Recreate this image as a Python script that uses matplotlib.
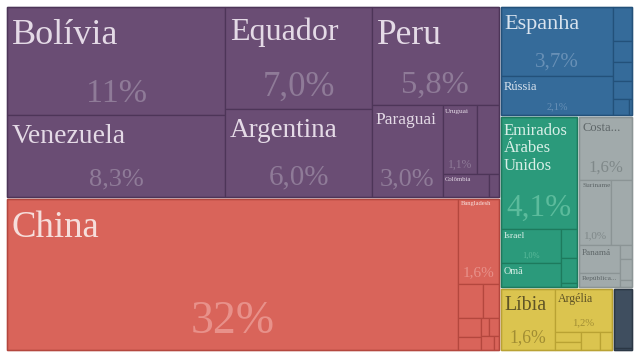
import matplotlib.pyplot as plt
from matplotlib.patches import Rectangle

# export shares (%) by destination, grouped by region
names = ["Bolívia", "Venezuela", "Equador", "Argentina", "Peru", "Paraguai", "Uruguai", "", "Colômbia", "",
         "China", "Bangladesh", "", "", "", "", "", "", "", "",
         "Espanha", "Rússia", "", "", "", "", "", "",
         "Emirados\nÁrabes\nUnidos", "Israel", "Omã", "", "", "",
         "Costa...", "Suriname", "", "Panamá", "República...", "", "", "",
         "Líbia", "Argélia", "", "", "", "",
         "", ""]
shares = [11.0, 8.3, 7.0, 6.0, 5.8, 3.0, 1.1, 0.7, 0.48, 0.1,
          32.0, 1.6, 0.40, 0.24, 0.21, 0.14, 0.07, 0.08, 0.08, 0.03,
          3.7, 2.1, 0.30, 0.18, 0.17, 0.16, 0.12, 0.02,
          4.1, 1.0, 0.69, 0.23, 0.19, 0.03,
          1.6, 1.0, 0.65, 0.55, 0.27, 0.08, 0.12, 0.04,
          1.6, 1.2, 0.13, 0.10, 0.17, 0.11,
          0.55, 0.02]
show_share = [1, 1, 1, 1, 1, 1, 1, 0, 0, 0,
              1, 1, 0, 0, 0, 0, 0, 0, 0, 0,
              1, 1, 0, 0, 0, 0, 0, 0,
              1, 1, 0, 0, 0, 0,
              1, 1, 0, 0, 0, 0, 0, 0,
              1, 1, 0, 0, 0, 0,
              0, 0]

# nesting of the tiles: ('h', kids) splits left-right, ('v', kids) top-bottom
region_tree = {
    "sa": ("h", [("v", [0, 1]), ("v", [2, 3]),
                 ("v", [4, ("h", [5, ("v", [("h", [6, 7]), ("h", [8, 9])])])])]),
    "as": ("h", [10, ("v", [11, ("h", [12, 13]),
                            ("h", [("v", [14, 15]), ("v", [("h", [16, 17]), ("h", [18, 19])])])])]),
    "eu": ("h", [("v", [20, 21]), ("v", [22, 23, 24, 25, ("h", [26, 27])])]),
    "me": ("v", [28, ("h", [("v", [29, 30]), ("v", [31, 32, 33])])]),
    "na": ("v", [34, ("h", [35, 36]), ("h", [("v", [37, 38]), ("v", [39, 40, 41])])]),
    "af": ("h", [42, ("v", [43, ("h", [("v", [44, 45]), 46, 47])])]),
    "oc": ("v", [48, 49]),
}
top_tree = ("h", [("v", ["sa", "as"]), ("v", ["eu", ("h", ["me", "na"]), ("h", ["af", "oc"])])])

# style
fill = {"sa": "#6a4d74", "as": "#d9645a", "eu": "#356b9a", "me": "#2b9a7b",
        "na": "#a1aaab", "af": "#dbc44f", "oc": "#3f4e5f"}
edge = {"sa": "#4d3558", "as": "#b4473e", "eu": "#23517a", "me": "#1d7a5d",
        "na": "#8b9495", "af": "#b9a233", "oc": "#2b3745"}
name_col = {"sa": "#e4dae6", "as": "#f6dedb", "eu": "#d9e3ee", "me": "#d8efe7",
            "na": "#5e6668", "af": "#5f5326"}
pct_col = {"sa": "#8f7b98", "as": "#e8918a", "eu": "#6890b6", "me": "#5cbb9c",
           "na": "#7f8889", "af": "#a18d33"}
name_size = {"Bolívia": 26, "Venezuela": 20, "Equador": 23, "Argentina": 19.5, "Peru": 25.5,
             "Paraguai": 12.5, "Uruguai": 5.3, "Colômbia": 4.8, "China": 26.5, "Bangladesh": 4.7,
             "Espanha": 16, "Rússia": 9, "Emirados\nÁrabes\nUnidos": 12, "Israel": 6.8, "Omã": 7.3,
             "Costa...": 9, "Suriname": 5.3, "Panamá": 6.6, "República...": 5.3,
             "Líbia": 14.3, "Argélia": 8.6}
pct_size = {"Bolívia": 24.5, "Venezuela": 19, "Equador": 25, "Argentina": 21, "Peru": 23.4,
            "Paraguai": 19, "Uruguai": 8.4, "China": 33, "Bangladesh": 11, "Espanha": 15,
            "Rússia": 7.5, "Emirados\nÁrabes\nUnidos": 22.5, "Israel": 6, "Costa...": 12,
            "Suriname": 8, "Líbia": 12.7, "Argélia": 7.7}

plt.rcParams['font.family'] = ['Liberation Serif', 'DejaVu Serif']


def total(node, vals):
    if isinstance(node, tuple):
        return sum(total(k, vals) for k in node[1])
    return vals[node]


def split(node, vals, x0, y0, x1, y1, out):
    if not isinstance(node, tuple):
        out[node] = (x0, y0, x1, y1)
        return
    kind, kids = node
    s = total(node, vals)
    pos = x0 if kind == "h" else y0
    for k in kids:
        f = total(k, vals) / s
        if kind == "h":
            step = (x1 - x0) * f
            split(k, vals, pos, y0, pos + step, y1, out)
        else:
            step = (y1 - y0) * f
            split(k, vals, x0, pos, x1, pos + step, out)
        pos += step


def fmt(v):
    if v >= 10:
        return "%d%%" % round(v)
    return ("%.1f%%" % v).replace(".", ",")


px = 100 / 72.0
fig = plt.figure(figsize=(6.4, 3.56), dpi=100)
ax = fig.add_axes([0, 0, 1, 1])
ax.set_xlim(0, 640)
ax.set_ylim(356, 0)
ax.axis("off")

region_val = {r: total(t, shares) for r, t in region_tree.items()}
region_box = {}
split(top_tree, region_val, 6, 6, 633, 351, region_box)

for r, (gx0, gy0, gx1, gy1) in region_box.items():
    gx0, gy0, gx1, gy1 = gx0 + 1, gy0 + 1, gx1 - 1, gy1 - 1
    tiles = {}
    split(region_tree[r], shares, gx0, gy0, gx1, gy1, tiles)
    for i, (x0, y0, x1, y1) in tiles.items():
        ax.add_patch(Rectangle((x0, y0), x1 - x0, y1 - y0, facecolor=fill[r],
                               edgecolor=edge[r], lw=0.9))
        n = names[i]
        if n:
            fs = name_size[n]
            ax.text(x0 + 2 + 0.08 * fs * px, y0 + 1 + 0.3 * fs * px, n, fontsize=fs,
                    color=name_col[r], ha="left", va="top", linespacing=1.12)
        if show_share[i]:
            fs = pct_size[n]
            ax.text((x0 + x1) / 2, y1 - 3 - 0.3 * fs * px, fmt(shares[i]), fontsize=fs,
                    color=pct_col[r], ha="center", va="baseline")
    ax.add_patch(Rectangle((gx0, gy0), gx1 - gx0, gy1 - gy0, facecolor="none",
                           edgecolor=edge[r], lw=1.0))

fig.savefig("out.png", dpi=100)
